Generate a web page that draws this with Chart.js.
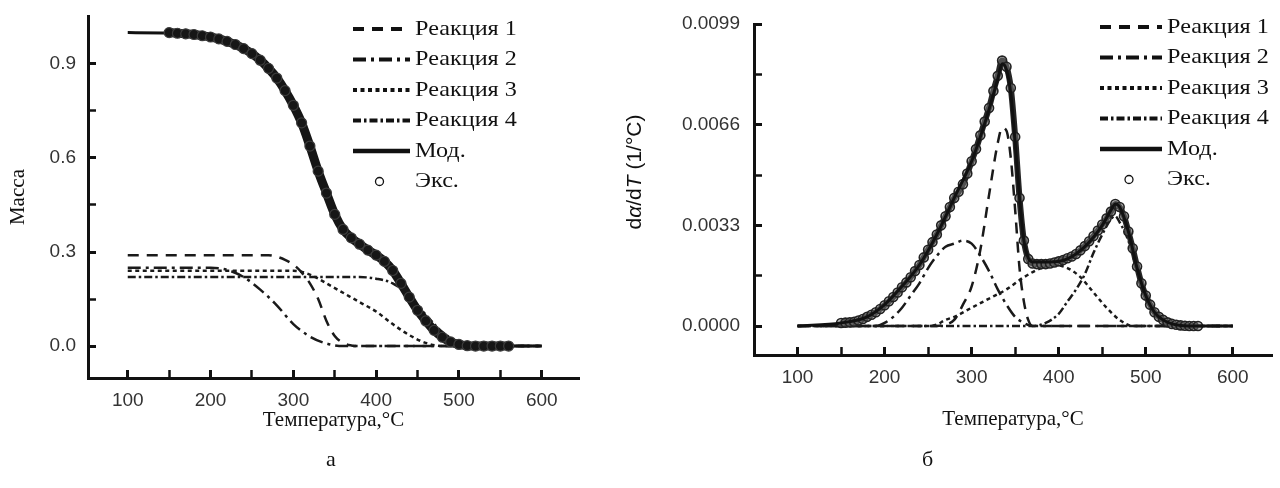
<!DOCTYPE html>
<html>
<head>
<meta charset="utf-8">
<script src="https://cdn.jsdelivr.net/npm/chart.js@4.4.1/dist/chart.umd.min.js"></script>
<style>
html, body { margin: 0; background: #fff; width: 1280px; height: 488px; overflow: hidden; }
#wrapA { position: absolute; left: 0; top: 0; width: 620px; height: 450px; }
#wrapB { position: absolute; left: 620px; top: 0; width: 660px; height: 450px; }
.cap { position: absolute; top: 446px; font: 22px "Liberation Serif", "Times New Roman", serif; color: #111; }
</style>
</head>
<body>
<div id="wrapA"><canvas id="massChart" width="620" height="450"></canvas></div>
<div id="wrapB"><canvas id="rateChart" width="660" height="450"></canvas></div>
<div class="cap" style="left:326px">а</div>
<div class="cap" style="left:922px">б</div>
<script>
const seriesNames = ['Реакция 1', 'Реакция 2', 'Реакция 3', 'Реакция 4', 'Мод.', 'Экс.']

// tick positions
const tempMajor = [100, 200, 300, 400, 500, 600]
const tempMinor = [150, 250, 350, 450, 550]
const massMajor = [0, 0.3, 0.6, 0.9]
const massMinor = [0.15, 0.45, 0.75]
const rateMajor = [0, 0.0033, 0.0066, 0.0099]
const rateMinor = [0.00165, 0.00495, 0.00825]

// (а) mass curves
const m1T = [100, 270, 280, 290, 300, 310, 320, 330, 340, 350, 360, 370, 380, 600]
const m1 = [0.29, 0.29, 0.285, 0.275, 0.26, 0.235, 0.2, 0.15, 0.08, 0.032, 0.01, 0.002, 0, 0]
const m2T = [100, 200, 220, 240, 260, 280, 300, 320, 340, 360, 600]
const m2 = [0.25, 0.25, 0.243, 0.22, 0.18, 0.13, 0.07, 0.03, 0.008, 0, 0]
const m3T = [100, 300, 320, 340, 360, 380, 400, 420, 440, 460, 480, 600]
const m3 = [0.24, 0.24, 0.228, 0.2, 0.17, 0.14, 0.11, 0.07, 0.035, 0.01, 0, 0]
const m4T = [100, 380, 400, 420, 440, 460, 480, 500, 520, 540, 600]
const m4 = [0.22, 0.22, 0.215, 0.2, 0.16, 0.1, 0.045, 0.012, 0.002, 0, 0]
const massModT = [100, 150, 200, 210, 220, 230, 240, 250, 260, 270, 280, 290, 300,
  310, 320, 330, 340, 350, 360, 370, 380, 390, 400, 410, 420, 430, 440, 450, 460,
  470, 480, 490, 500, 510, 520, 600]
const massMod = [1.0, 0.999, 0.986, 0.98, 0.972, 0.962, 0.95, 0.935, 0.913, 0.888, 0.857, 0.818, 0.77,
  0.715, 0.64, 0.56, 0.49, 0.42, 0.37, 0.345, 0.325, 0.305, 0.29, 0.27, 0.24, 0.2, 0.155, 0.115, 0.08,
  0.05, 0.028, 0.013, 0.005, 0.001, 0, 0]
const massExpT = [150, 160, 170, 180, 190, 200, 210, 220, 230, 240, 250, 260, 270, 280,
  290, 300, 310, 320, 330, 340, 350, 360, 370, 380, 390, 400, 410, 420, 430, 440,
  450, 460, 470, 480, 490, 500, 510, 520, 530, 540, 550, 560]
const massExp = [1.0, 0.998, 0.996, 0.994, 0.99, 0.986, 0.98, 0.972, 0.962, 0.949, 0.933, 0.912, 0.886, 0.855,
  0.815, 0.768, 0.712, 0.638, 0.558, 0.488, 0.42, 0.372, 0.345, 0.325, 0.306, 0.29, 0.27, 0.241, 0.2, 0.156,
  0.114, 0.08, 0.05, 0.028, 0.013, 0.005, 0.001, 0, 0, 0, 0, 0]

// (б) rate curves
const r1T = [100, 260, 270, 280, 290, 300, 310, 320, 330, 335, 340, 345, 350, 355, 360, 365, 370, 600]
const r1 = [0, 0, 0.00005, 0.0002, 0.0007, 0.0013, 0.0025, 0.0043, 0.006, 0.0065, 0.0064, 0.0055, 0.0038, 0.0019, 0.0008, 0.0002, 0, 0]
const r2T = [100, 190, 200, 210, 220, 230, 240, 250, 260, 270, 280, 290, 300, 310, 320, 330, 340, 350, 360, 370, 600]
const r2 = [0, 0, 0.0001, 0.0003, 0.0006, 0.001, 0.0014, 0.0019, 0.0023, 0.0026, 0.0027, 0.0028, 0.0027, 0.0023, 0.0018, 0.0012, 0.0007, 0.0003, 0.0001, 0, 0]
const r3T = [100, 250, 260, 270, 280, 300, 320, 340, 360, 380, 395, 410, 425, 440, 455, 470, 485, 600]
const r3 = [0, 0, 0.00005, 0.0002, 0.0003, 0.0006, 0.0009, 0.0012, 0.0016, 0.0019, 0.002, 0.0019, 0.0016, 0.0011, 0.0006, 0.0002, 0, 0]
const r4T = [100, 370, 385, 400, 410, 420, 430, 440, 450, 460, 465, 470, 480, 490, 500, 510, 520, 530, 540, 600]
const r4 = [0, 0, 0.0001, 0.0004, 0.0008, 0.0012, 0.0017, 0.0024, 0.003, 0.0035, 0.0036, 0.0034, 0.0028, 0.0018, 0.001, 0.0005, 0.0002, 0.00005, 0, 0]
const rateModT = [100, 150, 180, 200, 220, 240, 260, 280, 300, 310, 320, 330, 335, 340, 345, 350, 355, 360,
  370, 390, 410, 430, 450, 460, 465, 470, 480, 490, 500, 510, 520, 540, 560, 600]
const rateMod = [0, 0.0001, 0.0003, 0.0007, 0.0013, 0.002, 0.003, 0.0042, 0.0054, 0.0062, 0.0071, 0.0081, 0.0086, 0.0084, 0.0076, 0.006, 0.0042, 0.0028,
  0.0021, 0.0021, 0.0022, 0.0026, 0.0033, 0.0038, 0.004, 0.0039, 0.0031, 0.0019, 0.001, 0.00045, 0.0002, 0.00002, 0, 0]
const rateExpT = [150, 155, 160, 165, 170, 175, 180, 185, 190, 195,
  200, 205, 210, 215, 220, 225, 230, 235, 240, 245,
  250, 255, 260, 265, 270, 275, 280, 285, 290, 295,
  300, 305, 310, 315, 320, 325, 330, 335, 340, 345,
  350, 355, 360, 365, 370, 375, 380, 385, 390, 395,
  400, 405, 410, 415, 420, 425, 430, 435, 440, 445,
  450, 455, 460, 465, 470, 475, 480, 485, 490, 495,
  500, 505, 510, 515, 520, 525, 530, 535, 540, 545,
  550, 555, 560]
const rateExp = [0.0001, 0.00011, 0.00012, 0.00014, 0.00018, 0.00023, 0.0003, 0.00037, 0.00045, 0.00056,
  0.00068, 0.00081, 0.00095, 0.0011, 0.00127, 0.00143, 0.0016, 0.0018, 0.002, 0.00225,
  0.0025, 0.00275, 0.003, 0.0033, 0.0036, 0.0039, 0.0042, 0.0044, 0.00465, 0.005,
  0.0054, 0.0058, 0.00625, 0.0067, 0.00715, 0.0077, 0.0082, 0.0087, 0.0085, 0.0078,
  0.0062, 0.0042, 0.0028, 0.0022, 0.00205, 0.00203, 0.00203, 0.00203, 0.00205, 0.00208,
  0.00212, 0.00216, 0.00222, 0.00228, 0.00236, 0.00248, 0.00262, 0.00278, 0.00295, 0.00313,
  0.00333, 0.00353, 0.00375, 0.004, 0.0039, 0.0036, 0.0031, 0.00255, 0.00195, 0.0014,
  0.001, 0.0007, 0.00045, 0.0003, 0.0002, 0.00012, 0.00007, 0.00004, 0.00002, 0.00001,
  0, 0, 0]

const dashes = [[11, 8], [13, 5, 3, 5], [4, 3.5], [8, 3, 2.5, 3]]
const serif = '"Liberation Serif", "Times New Roman", serif'
const sans = '"Liberation Sans", Arial, sans-serif'

Chart.defaults.font.family = sans
Chart.defaults.animation = false

const pts = (ts, vs) => ts.map((t, i) => ({ x: t, y: vs[i] }))

// legend drawn inside the plot, top right, like the original figure
const cornerLegend = {
  id: 'cornerLegend',
  afterDraw(chart, args, opts) {
    const { ctx, chartArea } = chart
    const x0 = chartArea.right + opts.dx
    const y0 = chartArea.top + opts.dy
    ctx.save()
    ctx.font = '22px ' + serif
    ctx.textBaseline = 'middle'
    ctx.fillStyle = '#111'
    chart.data.datasets.forEach((ds, i) => {
      const y = y0 + i * opts.rowH
      ctx.strokeStyle = '#111'
      if (ds.isExp) {
        ctx.setLineDash([])
        ctx.lineWidth = 1.3
        ctx.beginPath()
        ctx.arc(x0 + opts.lineW / 2 - 2, y, 4, 0, Math.PI * 2)
        ctx.stroke()
      } else {
        ctx.setLineDash(ds.borderDash || [])
        ctx.lineWidth = ds.borderWidth + 1.5
        ctx.beginPath()
        ctx.moveTo(x0, y)
        ctx.lineTo(x0 + opts.lineW, y)
        ctx.stroke()
      }
      ctx.save()
      ctx.translate(x0 + opts.lineW + opts.gap, y)
      ctx.scale(1.1, 1)
      ctx.fillText(ds.label, 0, 0)
      ctx.restore()
    })
    ctx.restore()
  },
}

// rotated axis title with italic alpha and T
const rateTitleParts = [['d', ''], ['α', 'italic '], ['/d', ''], ['T', 'italic '], [' (1/°C)', '']]
const rateTitle = {
  id: 'rateTitle',
  afterDraw(chart, args, opts) {
    const { ctx } = chart
    const fontOf = style => style + '21px ' + sans
    let total = 0
    rateTitleParts.forEach(([t, s]) => { ctx.font = fontOf(s); total += ctx.measureText(t).width })
    ctx.save()
    ctx.translate(opts.x, opts.y)
    ctx.rotate(-Math.PI / 2)
    ctx.fillStyle = '#111'
    ctx.textBaseline = 'middle'
    let x = -total / 2
    rateTitleParts.forEach(([t, s]) => {
      ctx.font = fontOf(s)
      ctx.fillText(t, x, 0)
      x += ctx.measureText(t).width
    })
    ctx.restore()
  },
}

function tickSetter(major, minor) {
  return scale => {
    scale.ticks = major.concat(minor).sort((a, b) => a - b).map(v => ({ value: v }))
  }
}

function axis(major, minor, extra) {
  return Object.assign({
    type: 'linear',
    afterBuildTicks: tickSetter(major, minor),
    border: { display: true, color: '#111', width: 3 },
    grid: {
      drawOnChartArea: false,
      tickLength: -8,
      tickColor: '#111',
      tickWidth: ctx => (major.includes(ctx.tick.value) ? 3 : 2.5),
    },
  }, extra)
}

function fixSize(prop, size) {
  return s => {
    s[prop] = size
    s.paddingTop = 0
    s.paddingBottom = 0
    s.paddingLeft = 0
    s.paddingRight = 0
  }
}

function reactionSets(tArrs, vArrs) {
  return tArrs.map((ts, i) => ({
    label: seriesNames[i],
    data: pts(ts, vArrs[i]),
    borderColor: '#1a1a1a',
    borderWidth: 2.5,
    borderDash: dashes[i],
    pointRadius: 0,
    cubicInterpolationMode: 'monotone',
    order: 3,
  }))
}

new Chart(document.getElementById('massChart'), {
  type: 'line',
  data: {
    datasets: [
      ...reactionSets([m1T, m2T, m3T, m4T], [m1, m2, m3, m4]),
      {
        label: seriesNames[4],
        data: pts(massModT, massMod),
        borderColor: '#111',
        borderWidth: 3,
        pointRadius: 0,
        cubicInterpolationMode: 'monotone',
        order: 2,
      },
      {
        label: seriesNames[5],
        isExp: true,
        data: pts(massExpT, massExp),
        borderColor: '#161616',
        borderWidth: 9,
        pointRadius: 5,
        pointBorderWidth: 1.2,
        pointBorderColor: '#3c3c3c',
        pointBackgroundColor: '#161616',
        cubicInterpolationMode: 'monotone',
        order: 1,
      },
    ],
  },
  options: {
    responsive: false,
    layout: { padding: { left: 0, top: 16, right: 41, bottom: 0 } },
    plugins: {
      legend: { display: false },
      tooltip: { enabled: false },
      cornerLegend: { dx: -226, dy: 13, rowH: 30.5, lineW: 57, gap: 5 },
    },
    scales: {
      x: axis(tempMajor, tempMinor, {
        min: 52,
        max: 645,
        afterFit: fixSize('height', 72),
        ticks: {
          autoSkip: false,
          maxRotation: 0,
          padding: 19,
          color: '#333',
          font: { size: 19 },
          callback: v => (tempMajor.includes(v) ? String(v) : ''),
        },
        title: {
          display: true,
          text: 'Температура,°C',
          color: '#111',
          font: { family: serif, size: 21 },
          padding: { top: 0, bottom: 17 },
        },
      }),
      y: axis(massMajor, massMinor, {
        min: -0.102,
        max: 1.053,
        afterFit: fixSize('width', 88),
        ticks: {
          autoSkip: false,
          padding: 20,
          color: '#333',
          font: { size: 19 },
          callback: v => (massMajor.includes(v) ? v.toFixed(1) : ''),
        },
        title: {
          display: true,
          text: 'Масса',
          color: '#111',
          font: { family: serif, size: 21 },
          padding: { top: 6, bottom: 0 },
        },
      }),
    },
  },
  plugins: [cornerLegend],
})

new Chart(document.getElementById('rateChart'), {
  type: 'line',
  data: {
    datasets: [
      ...reactionSets([r1T, r2T, r3T, r4T], [r1, r2, r3, r4]),
      {
        label: seriesNames[4],
        data: pts(rateModT, rateMod),
        borderColor: '#111',
        borderWidth: 3,
        pointRadius: 0,
        cubicInterpolationMode: 'monotone',
        order: 1,
      },
      {
        label: seriesNames[5],
        isExp: true,
        data: pts(rateExpT, rateExp),
        borderColor: '#262626',
        borderWidth: 6,
        pointRadius: 4.5,
        pointBorderWidth: 1.6,
        pointBorderColor: '#222',
        pointBackgroundColor: 'rgba(120,120,120,0.5)',
        cubicInterpolationMode: 'monotone',
        order: 2,
      },
    ],
  },
  options: {
    responsive: false,
    layout: { padding: { left: 0, top: 24, right: 8, bottom: 0 } },
    plugins: {
      legend: { display: false },
      tooltip: { enabled: false },
      cornerLegend: { dx: -172, dy: 3, rowH: 30.5, lineW: 62, gap: 5 },
      rateTitle: { x: 15, y: 172 },
    },
    scales: {
      x: axis(tempMajor, tempMinor, {
        min: 50,
        max: 645,
        afterFit: fixSize('height', 95),
        ticks: {
          autoSkip: false,
          maxRotation: 0,
          padding: 19,
          color: '#333',
          font: { size: 19 },
          callback: v => (tempMajor.includes(v) ? String(v) : ''),
        },
        title: {
          display: true,
          text: 'Температура,°C',
          color: '#111',
          font: { family: serif, size: 21 },
          padding: { top: 0, bottom: 18 },
        },
      }),
      y: axis(rateMajor, rateMinor, {
        min: -0.00095,
        max: 0.0099,
        afterFit: fixSize('width', 134),
        ticks: {
          autoSkip: false,
          padding: 22,
          color: '#333',
          font: { size: 19 },
          callback: v => (rateMajor.includes(v) ? v.toFixed(4) : ''),
        },
      }),
    },
  },
  plugins: [cornerLegend, rateTitle],
})
</script>
</body>
</html>
